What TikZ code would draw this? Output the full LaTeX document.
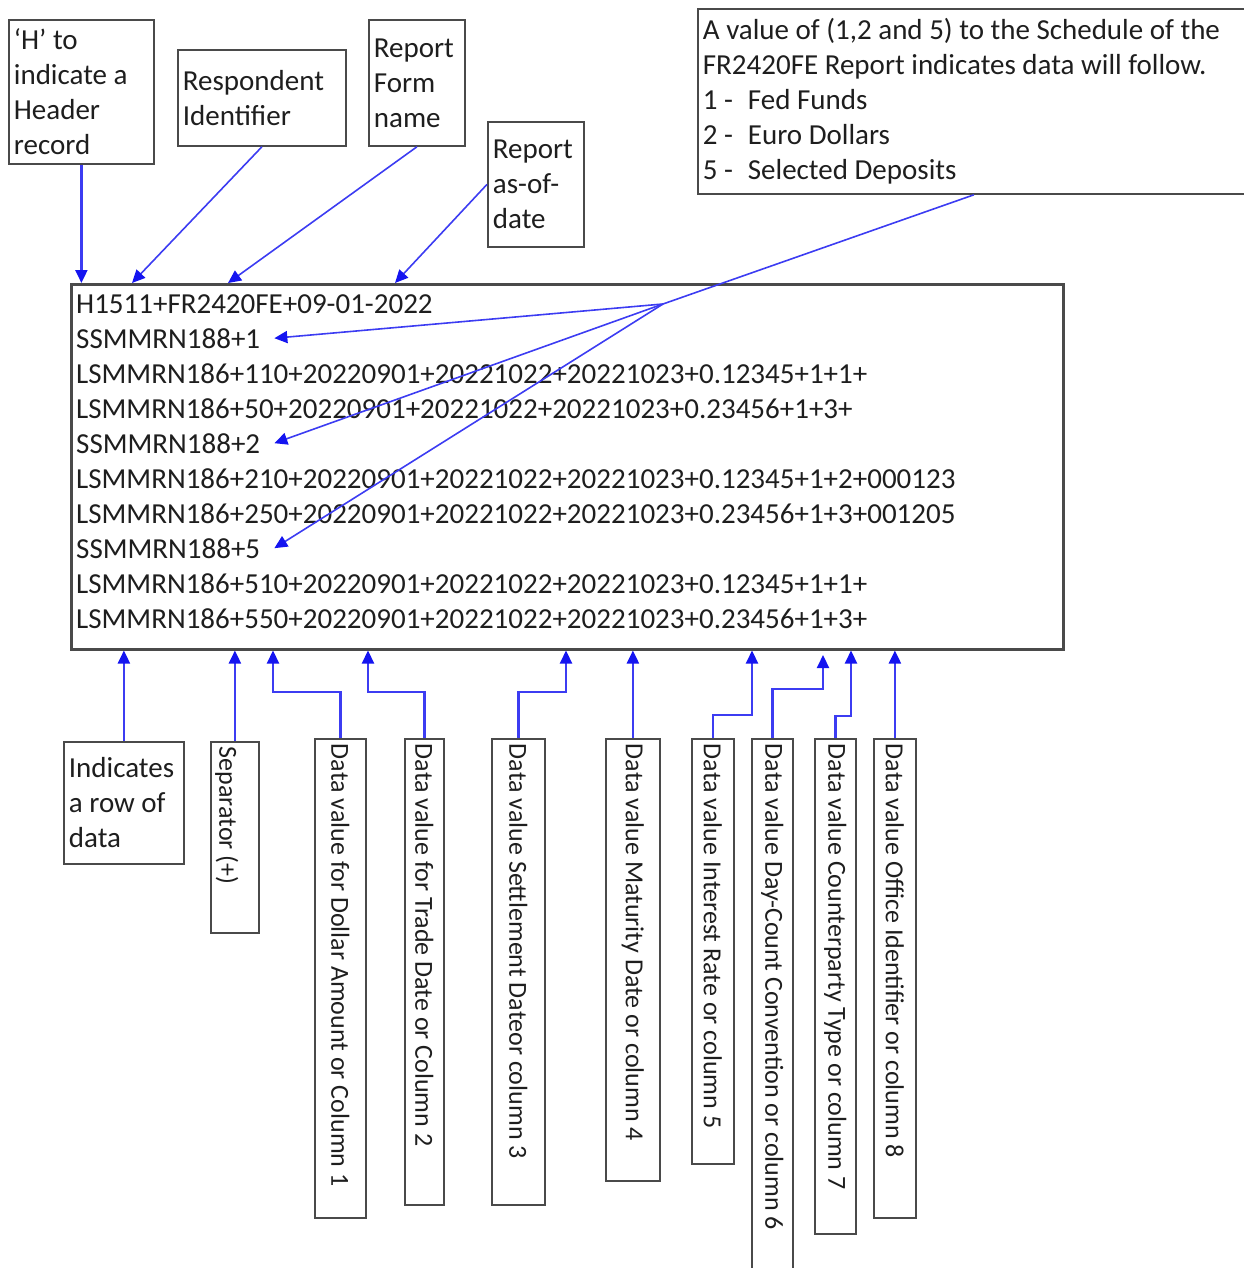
\documentclass[tikz,border=0pt]{standalone}
\usepackage{fontspec}
\setmainfont{Carlito}
\usetikzlibrary{arrows.meta}
\definecolor{lineblue}{HTML}{3C3CF2}
\definecolor{tipblue}{HTML}{1414F0}
\definecolor{boxgray}{HTML}{4A4A4A}
\definecolor{txt}{HTML}{1E1E1E}
\begin{document}
\begin{tikzpicture}[x=1pt,y=-1pt,
  lbl/.style={draw=boxgray, line width=1.8pt, anchor=north west, align=flush left,
    inner xsep=5pt, inner ysep=3pt, font=\fontsize{29}{35}\selectfont, text=txt},
  vb/.style={draw=boxgray, line width=1.8pt, rotate=-90, anchor=south west, align=flush left,
    inner xsep=5pt, inner ysep=0pt, font=\fontsize{26}{30}\selectfont, text=txt},
  mt/.style={anchor=base west, inner sep=0pt, font=\fontsize{29}{35}\selectfont, text=txt},
  conn/.style={draw=lineblue, line width=1.6pt},
  arr/.style={conn, -{Triangle[length=13pt,width=12pt,color=tipblue]}},
  varr/.style={arr, line width=2.2pt}
]
\useasboundingbox (0,0) rectangle (1243,1268);

% top labels
\node[lbl, text width=135, minimum height=144] (hdr) at (8,19) {‘H’ to\\indicate a\\Header\\record};
\node[lbl, text width=158, minimum height=96] (resp) at (177,49) {Respondent\\Identifier};
\node[lbl, text width=86, minimum height=126] (form) at (368,19) {Report\\Form\\name};
\node[lbl, text width=86, minimum height=125] (date) at (487,121) {Report\\as-of-\\date};
\node[lbl, text width=542, minimum height=185] (big) at (697,8)
  {A value of (1,2 and 5) to the Schedule of the\\
   FR2420FE Report indicates data will follow.\\
   \makebox[45pt][l]{1 -}Fed Funds\\
   \makebox[45pt][l]{2 -}Euro Dollars\\
   \makebox[45pt][l]{5 -}Selected Deposits};

% main record box
\node[draw=boxgray, line width=2.5pt, minimum width=992, minimum height=365,
  anchor=north west, inner sep=0pt] (main) at (70,283) {};
\node[mt] (l1) at (76,313) {H1511+FR2420FE+09-01-2022};
\node[mt] (l2) at (76,348) {SSMMRN188+1};
\node[mt] (l3) at (76,383) {LSMMRN186+110+20220901+20221022+20221023+0.12345+1+1+};
\node[mt] (l4) at (76,418) {LSMMRN186+50+20220901+20221022+20221023+0.23456+1+3+};
\node[mt] (l5) at (76,453) {SSMMRN188+2};
\node[mt] (l6) at (76,488) {LSMMRN186+210+20220901+20221022+20221023+0.12345+1+2+000123};
\node[mt] (l7) at (76,523) {LSMMRN186+250+20220901+20221022+20221023+0.23456+1+3+001205};
\node[mt] (l8) at (76,558) {SSMMRN188+5};
\node[mt] (l9) at (76,593) {LSMMRN186+510+20220901+20221022+20221023+0.12345+1+1+};
\node[mt] (l10) at (76,628) {LSMMRN186+550+20220901+20221022+20221023+0.23456+1+3+};

% bottom labels
\node[lbl, text width=110, minimum height=122] (row) at (63,741) {Indicates\\a row of\\data};
\node[vb, text width=181, minimum height=48, text height=39.5pt, text depth=8.5pt] (sep) at (210,741) {Separator (+)};
\node[vb, text width=469, minimum height=51] (c1) at (314,738) {Data value for Dollar Amount or Column 1};
\node[vb, text width=456, minimum height=39] (c2) at (404,738) {Data value for Trade Date or Column 2};
\node[vb, text width=456, minimum height=53] (c3) at (491,738) {Data value Settlement Dateor column 3};
\node[vb, text width=432, minimum height=54] (c4) at (605,738) {Data value Maturity Date or column 4};
\node[vb, text width=415, minimum height=42] (c5) at (691,738) {Data value Interest Rate or column 5};
\node[vb, text width=542, minimum height=41] (c6) at (751,738) {Data value Day-Count Convention or column 6};
\node[vb, text width=485, minimum height=41] (c7) at (814,738) {Data value Counterparty Type or column 7};
\node[vb, text width=469, minimum height=42] (c8) at (873,738) {Data value Office Identifier or column 8};

% top connectors
\draw[varr] (hdr.south) -- (hdr.south |- main.north);
\draw[arr] (resp.south) -- (132,0 |- main.north);
\draw[arr] (form.south) -- (228,0 |- main.north);
\draw[arr] (date.west) -- (395,0 |- main.north);
\coordinate (J) at (663,304);
\draw[conn] (big.south) -- (J);
\draw[arr] (J) -- ([xshift=14pt]l2.east);
\draw[arr] (J) -- ([xshift=14pt]l5.east);
\draw[arr] (J) -- ([xshift=14pt]l8.east);

% bottom connectors
\draw[varr] (row.north) -- (row.north |- main.south);
\draw[varr] (sep.west) -- (sep.west |- main.south);
\draw[varr] (c1.west) |- (273,692) -- (273,0 |- main.south);
\draw[varr] (c2.west) |- (368,692) -- (368,0 |- main.south);
\draw[varr] (c3.west) |- (566,692) -- (566,0 |- main.south);
\draw[varr] (c4.west) -- (c4.west |- main.south);
\draw[varr] (c5.west) |- (752,715) -- (752,0 |- main.south);
\draw[varr] (c6.west) |- (823,689) -- (823,655);
\draw[varr] (c7.west) |- (851,716) -- (851,0 |- main.south);
\draw[varr] (c8.west) -- (c8.west |- main.south);
\end{tikzpicture}
\end{document}
